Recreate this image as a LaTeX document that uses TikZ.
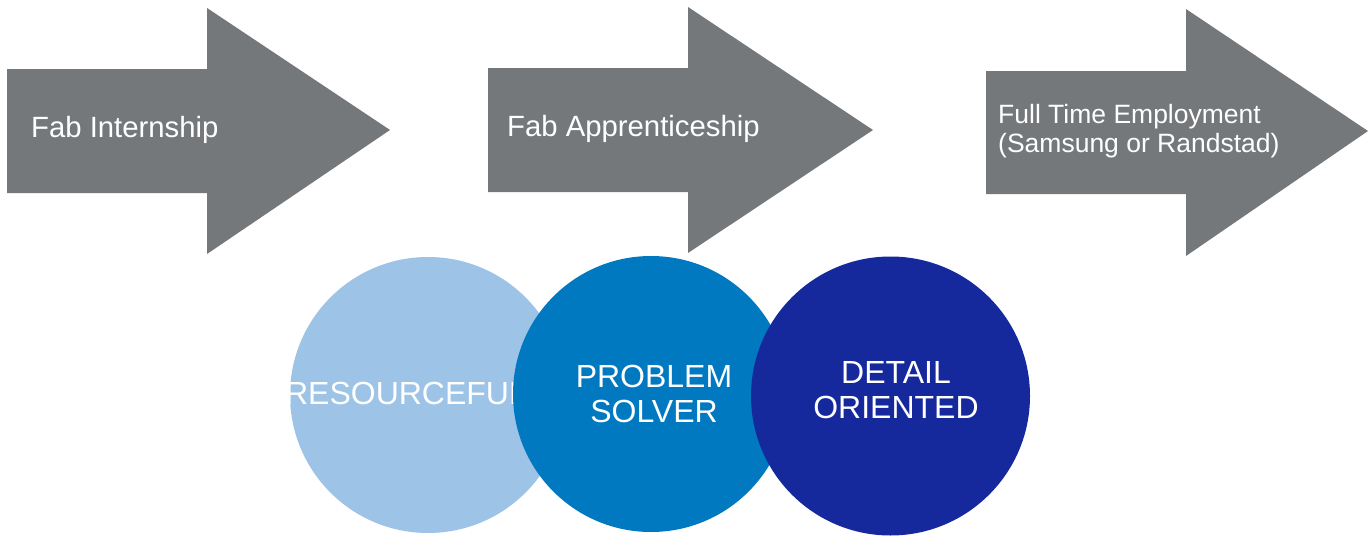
\documentclass[tikz,border=0pt]{standalone}
\usepackage{fontspec}
\setmainfont{Liberation Sans}
\definecolor{arrowgray}{HTML}{75787B}
\definecolor{lightblue}{HTML}{9DC3E6}
\definecolor{midblue}{HTML}{0079C1}
\definecolor{darkblue}{HTML}{15299D}
\begin{document}
\begin{tikzpicture}[x=1pt,y=-1pt,
  arrowshape/.style={fill=arrowgray,draw=none},
  steplabel/.style={text=white,inner sep=0pt,font=\fontsize{29.3}{33}\selectfont},
  skill/.style={circle,draw=none,minimum size=276pt,inner sep=0pt},
  skilltext/.style={text=white,inner sep=0pt,align=center,font=\fontsize{32}{35}\selectfont}]
\useasboundingbox (0,0) rectangle (1369,538);
% arrows
\fill[arrowshape] (7,69) -- (207,69) -- (207,8) -- (390,130) -- (207,254) -- (207,193) -- (7,193) -- cycle;
\fill[arrowshape] (488,68) -- (688,68) -- (688,7) -- (873,130) -- (688,253) -- (688,192) -- (488,192) -- cycle;
\fill[arrowshape] (986,71) -- (1186,71) -- (1186,9) -- (1368,131) -- (1186,256) -- (1186,194) -- (986,194) -- cycle;
\node[steplabel,anchor=base west] (t1) at (31,137) {Fab Internship};
\node[steplabel,anchor=base west] (t2) at (507,136) {Fab Apprenticeship};
\node[text=white,inner sep=0pt,align=left,anchor=west,font=\fontsize{26.5}{28.5}\selectfont] (t3) at (998,131) {Full Time Employment\\(Samsung or Randstad)};
% circles
\node[skill,fill=lightblue] (c1) at (428,395) {};
\node[skilltext] (s1) at (406,393.5) {RESOURCEFUL};
\node[skill,fill=midblue] (c2) at (651,394) {};
\node[skilltext] (s2) at (654,394) {PROBLEM\\SOLVER};
\node[skill,fill=darkblue,minimum size=279pt] (c3) at (890.5,396) {};
\node[skilltext] (s3) at (896,390) {DETAIL\\ORIENTED};
\end{tikzpicture}
\end{document}
